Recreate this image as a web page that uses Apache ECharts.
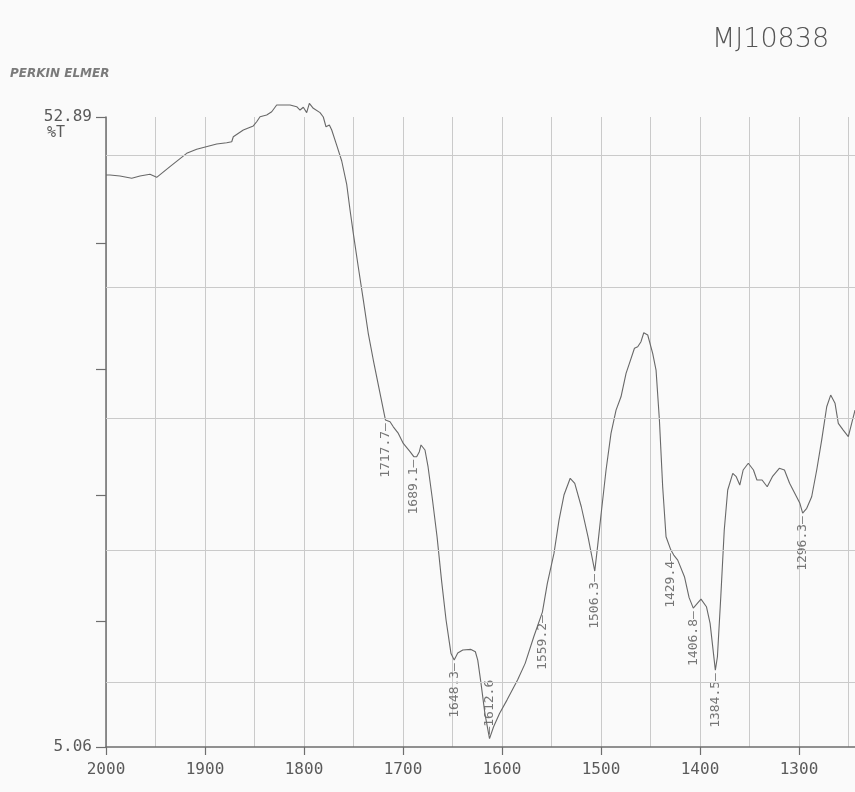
<!DOCTYPE html>
<html>
<head>
<meta charset="utf-8">
<script src="https://cdn.jsdelivr.net/npm/echarts@6/dist/echarts.min.js"></script>
<style>
  html, body { margin: 0; padding: 0; background: #fafafa; }
  #chart { width: 855px; height: 792px; }
</style>
</head>
<body>
<div id="chart"></div>
<script>
// IR spectrum, 2000 - 1240 cm-1, % transmittance
const wavenumbers = [
  2000, 1996.0, 1985.9, 1974.0, 1965.7, 1955.6, 1948.8, 1935.4, 1918.5, 1908.4,
  1888.2, 1878.1, 1873.0, 1871.4, 1861.3, 1851.2, 1847.8, 1844.4, 1837.7, 1832.6,
  1827.6, 1814.1, 1807.4, 1804.0, 1800.7, 1797.3, 1794.6, 1790.6, 1783.8, 1780.5,
  1777.8, 1774.4, 1772.0, 1767.0, 1761.9, 1756.9, 1753.5, 1750.2, 1745.2, 1740.1,
  1735.1, 1730.0, 1723.2, 1717.7, 1713.1, 1709.8, 1704.7, 1699.7, 1692.9, 1689.1,
  1686.2, 1683.5, 1681.8, 1677.8, 1674.7, 1670.2, 1665.6, 1661.1, 1656.5, 1651.5,
  1648.3, 1644.7, 1639.6, 1631.3, 1626.9, 1624.5, 1621.2, 1617.3, 1612.6, 1608.5,
  1602.5, 1595.0, 1584.3, 1576.6, 1567.9, 1559.2, 1554.2, 1547.5, 1542.4, 1537.4,
  1531.1, 1526.5, 1519.9, 1513.1, 1506.3, 1503.3, 1500.0, 1494.9, 1489.9, 1484.8,
  1479.8, 1474.7, 1471.3, 1466.2, 1462.9, 1459.6, 1456.8, 1452.8, 1447.8, 1444.4,
  1441.0, 1437.7, 1434.3, 1429.4, 1426.5, 1422.5, 1415.7, 1411.0, 1406.8, 1399.0,
  1393.5, 1389.8, 1384.5, 1382.4, 1379.0, 1375.5, 1372.0, 1366.9, 1363.4, 1359.8,
  1356.4, 1351.2, 1346.0, 1342.5, 1337.3, 1332.1, 1326.9, 1319.9, 1314.7, 1309.5,
  1304.3, 1299.1, 1296.3, 1292.2, 1287.2, 1282.1, 1277.1, 1272.0, 1268.0, 1263.6,
  1260.3, 1255.3, 1250.2, 1246.8, 1243.4
];
const transmittance = [
  48.49, 48.49, 48.41, 48.24, 48.41, 48.54, 48.31, 49.12, 50.13, 50.44,
  50.84, 50.94, 51.01, 51.39, 51.90, 52.21, 52.53, 52.91, 53.04, 53.29,
  53.80, 53.80, 53.67, 53.42, 53.63, 53.22, 53.93, 53.55, 53.22, 52.89,
  52.15, 52.28, 51.90, 50.76, 49.55, 47.80, 45.83, 44.06, 41.52, 39.00,
  36.47, 34.44, 31.91, 29.88, 29.75, 29.37, 28.87, 28.11, 27.48, 27.10,
  27.10, 27.48, 27.99, 27.61, 26.34, 23.81, 21.02, 17.73, 14.70, 12.15,
  11.66, 12.19, 12.42, 12.47, 12.29, 11.66, 9.89, 7.61, 5.70, 6.60,
  7.61, 8.62, 10.14, 11.41, 13.43, 15.30, 17.48, 19.76, 22.29, 24.19,
  25.46, 25.08, 23.30, 21.02, 18.42, 20.39, 22.67, 26.09, 28.87, 30.64,
  31.65, 33.43, 34.19, 35.33, 35.45, 35.83, 36.51, 36.34, 34.95, 33.68,
  29.88, 24.82, 21.02, 20.01, 19.63, 19.25, 17.99, 16.40, 15.60, 16.29,
  15.71, 14.45, 10.90, 11.91, 16.47, 21.53, 24.57, 25.84, 25.58, 24.95,
  26.09, 26.60, 26.09, 25.33, 25.33, 24.82, 25.58, 26.22, 26.09, 25.08,
  24.32, 23.56, 22.82, 23.18, 24.06, 26.09, 28.36, 30.89, 31.78, 31.15,
  29.63, 29.12, 28.62, 29.63, 30.64
];

// peak annotations: printed under the trace, except where the trace is near the floor
const peaksBelow = [1717.7, 1689.1, 1648.3, 1559.2, 1506.3, 1429.4, 1406.8, 1384.5, 1296.3];
const peaksAbove = [1612.6];

// ordinate end values and horizontal rule levels
const yLimits = [5.06, 52.89];
const gridLevels = [10, 20, 30, 40, 50];
const yTickCount = 5;

const xLimits = [1200, 2000];

const spectrum = wavenumbers.map((w, i) => [w, transmittance[i]]);
const atPeak = w => [w, transmittance[wavenumbers.indexOf(w)]];

const mono = 'DejaVu Sans Mono';
const axisGrey = '#6e6e6e';
const ruleGrey = '#cacaca';

const chart = echarts.init(document.getElementById('chart'), null, { renderer: 'canvas' });

const peakLabel = {
  show: true,
  rotate: 90,
  position: 'inside',
  verticalAlign: 'middle',
  fontFamily: mono,
  fontSize: 13,
  color: '#555'
};

chart.setOption({
  animation: false,
  backgroundColor: '#fafafa',
  // the frame runs on past the right edge of the page, as on the paper chart
  grid: { left: 106, top: 117, width: 792, height: 630, containLabel: false, outerBoundsMode: 'none' },
  xAxis: [
    {
      type: 'value', inverse: true, min: xLimits[0], max: xLimits[1], interval: 50,
      position: 'bottom',
      axisLine: { show: false }, axisTick: { show: false }, axisLabel: { show: false },
      splitLine: { show: true, lineStyle: { color: ruleGrey, width: 1 } }
    },
    {
      type: 'value', inverse: true, min: xLimits[0], max: xLimits[1], interval: 100,
      position: 'bottom',
      axisLine: { show: true, onZero: false, lineStyle: { color: axisGrey, width: 1.5 } },
      axisTick: { show: true, inside: false, length: 8, lineStyle: { color: axisGrey, width: 1.2 } },
      axisLabel: { show: true, margin: 15, color: '#5a5a5a', fontFamily: mono, fontSize: 16,
                   formatter: v => String(v) },
      splitLine: { show: false }
    }
  ],
  yAxis: [
    {
      type: 'value', min: yLimits[0], max: yLimits[1], position: 'left',
      axisLine: { show: false }, axisTick: { show: false }, axisLabel: { show: false },
      splitLine: { show: false }
    },
    {
      type: 'value', min: 0, max: yTickCount, interval: 1, position: 'left',
      axisLine: { show: true, onZero: false, lineStyle: { color: axisGrey, width: 1.5 } },
      axisTick: { show: true, inside: false, length: 10, lineStyle: { color: axisGrey, width: 1.2 } },
      axisLabel: {
        show: true, margin: 14, color: '#5a5a5a', fontFamily: mono, fontSize: 16,
        formatter: v => v === yTickCount ? yLimits[1].toFixed(2) : (v === 0 ? yLimits[0].toFixed(2) : '')
      },
      splitLine: { show: false }
    }
  ],
  series: [
    {
      type: 'scatter',
      xAxisIndex: 0, yAxisIndex: 0,
      z: 2,
      symbolSize: 0.1,
      itemStyle: { color: 'rgba(0,0,0,0)' },
      data: peaksBelow.map(atPeak),
      label: Object.assign({}, peakLabel, {
        align: 'right',
        padding: [0, 3, 0, 0],
        formatter: p => p.value[0].toFixed(1) + '\u2014'
      }),
      markLine: {
        silent: true,
        symbol: ['none', 'none'],
        label: { show: false },
        lineStyle: { color: ruleGrey, type: 'solid', width: 1 },
        data: gridLevels.map(v => ({ yAxis: v }))
      }
    },
    {
      type: 'scatter',
      xAxisIndex: 0, yAxisIndex: 0,
      z: 2,
      symbolSize: 0.1,
      itemStyle: { color: 'rgba(0,0,0,0)' },
      data: peaksAbove.map(atPeak),
      label: Object.assign({}, peakLabel, {
        align: 'left',
        padding: [0, 0, 0, 4],
        formatter: p => '\u2014' + p.value[0].toFixed(1)
      })
    },
    {
      type: 'line',
      xAxisIndex: 0, yAxisIndex: 0,
      z: 3,
      clip: false,
      symbol: 'none',
      showSymbol: false,
      lineStyle: { color: '#686868', width: 1.1 },
      data: spectrum
    }
  ],
  graphic: [
    {
      type: 'text', left: 10, top: 68,
      style: { text: 'PERKIN ELMER', font: 'italic bold 12px "DejaVu Sans"', fill: '#7a7a7a' }
    },
    {
      type: 'text', left: 47, top: 126,
      style: { text: '%T', font: '15px "DejaVu Sans Mono"', fill: '#5a5a5a' }
    },
    {
      type: 'text', left: 712, top: 26,
      style: { text: 'MJ10838', font: '200 27px "DejaVu Sans"', fill: '#555' }
    }
  ]
});
</script>
</body>
</html>
